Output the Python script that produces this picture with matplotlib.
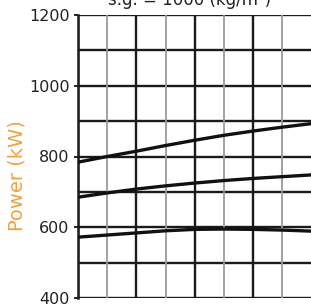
import numpy as np
import matplotlib
matplotlib.use('Agg')
import matplotlib.pyplot as plt

# flow axis has no visible labels, use grid units
flow = [0, 1, 2, 3, 4, 5, 6, 7, 8]
power_top = [784, 800, 815, 831, 846, 860, 872, 883, 893]
power_mid = [685, 697, 708, 717, 725, 732, 738, 743, 748]
power_low = [572, 578, 584, 590, 594, 595, 594, 592, 589]

y_ticks = [400, 600, 800, 1000, 1200]

fig = plt.figure(figsize=(3.11, 3.05), dpi=100)
ax = fig.add_axes([78 / 311, 7 / 305, 1 - 78 / 311, 283 / 305])

ax.set_xlim(0, 7.98)
ax.set_ylim(400, 1200)

# grid: thick black every 100 kW and every 2 x-units, grey in between
for v in range(400, 1201, 100):
	ax.axhline(v, color='#1a1a1a', lw=1.7, zorder=1)
for x in range(0, 8):
	if x % 2 == 0:
		ax.axvline(x, color='#1a1a1a', lw=1.7, zorder=1)
	else:
		ax.axvline(x, color='#9a9a9a', lw=1.3, zorder=1)

for series in (power_top, power_mid, power_low):
	ax.plot(flow, series, color='#111111', lw=2.4, zorder=3, clip_on=True)

for side in ('right', 'top', 'bottom'):
	ax.spines[side].set_visible(False)
ax.spines['left'].set_linewidth(1.8)
ax.spines['left'].set_color('#1a1a1a')

ax.set_xticks([])
ax.set_yticks(y_ticks)
ax.set_yticklabels([str(v) for v in y_ticks], fontsize=11.5, color='#222222')
ax.tick_params(axis='y', length=3, width=1.2, pad=3)

fig.text(17 / 311, 1 - 176 / 305, 'Power (kW)', rotation=90, ha='center',
	va='center', fontsize=14, color='#f2a23c')

fig.text(0.61, 1.0, 's.g. = 1000 (kg/m³)', ha='center', va='center',
	fontsize=12, color='#222222')

fig.savefig('out.png', dpi=100)
